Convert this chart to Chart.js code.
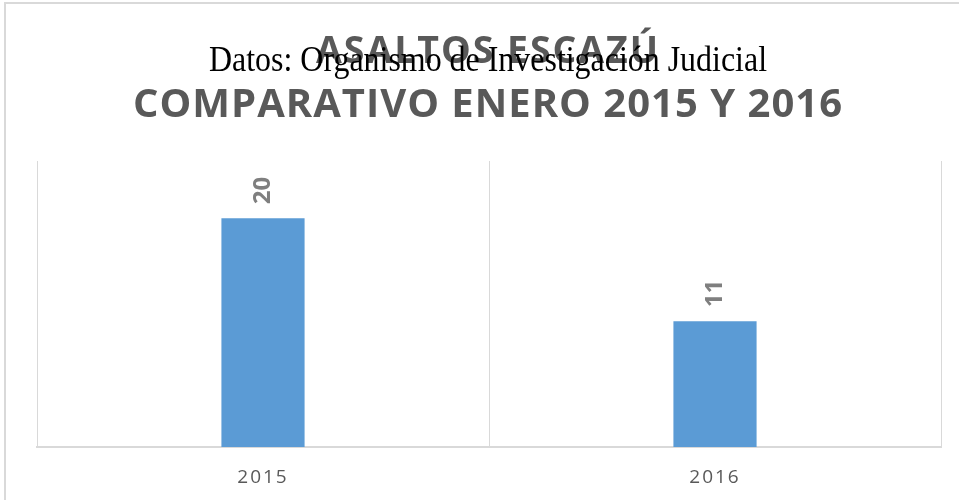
<!DOCTYPE html>
<html>
<head>
<meta charset="utf-8">
<script src="https://cdn.jsdelivr.net/npm/chart.js@4"></script>
<style>
  html, body { margin: 0; padding: 0; background: #fff; }
  #wrap { position: relative; width: 959px; height: 500px; }
  #wrap::before { content: ''; position: absolute; left: 4px; top: 2px; right: 0; bottom: 0;
    border-left: 2px solid #d9d9d9; border-top: 2px solid #d9d9d9; pointer-events: none; }
</style>
</head>
<body>
<div id="wrap"><canvas id="asaltos" width="959" height="500"></canvas></div>
<script>
const anios = ['2015', '2016'];
const totalAsaltos = [20, 11];
const tituloLineas = ['ASALTOS ESCAZÚ', 'COMPARATIVO ENERO 2015 Y 2016'];
const fuente = 'Datos: Organismo de Investigación Judicial';

// titles drawn by hand because the source line overlaps the first title line
const titulos = {
    id: 'titulos',
    beforeDraw(chart) {
        // spaced-out tick labels on the x axis
        chart.ctx.letterSpacing = '2px';
    },
    beforeDatasetsDraw(chart) {
        chart.ctx.letterSpacing = '0px';
    },
    afterDraw(chart) {
        const c = chart.ctx;
        const mid = 488;
        c.save();
        c.textAlign = 'center';
        c.textBaseline = 'alphabetic';
        c.fillStyle = '#595959';
        c.font = 'bold 38px "Open Sans"';
        c.letterSpacing = '2px';
        c.fillText(tituloLineas[0], mid, 63, 344);
        c.font = 'bold 40px "Open Sans"';
        c.letterSpacing = '1px';
        c.fillText(tituloLineas[1], mid, 117, 710);
        c.letterSpacing = '0px';
        c.fillStyle = '#000';
        c.font = '36px "Liberation Serif"';
        c.fillText(fuente, mid, 71, 558);
        c.restore();
    }
};

// rotated value labels above the bars
const etiquetas = {
    id: 'etiquetas',
    afterDatasetsDraw(chart) {
        const c = chart.ctx;
        const meta = chart.getDatasetMeta(0);
        c.save();
        c.fillStyle = '#7f7f7f';
        c.font = 'bold 24px "Open Sans"';
        c.textAlign = 'left';
        c.textBaseline = 'middle';
        meta.data.forEach((bar, i) => {
            c.save();
            c.translate(bar.x, bar.y - 14);
            c.rotate(-Math.PI / 2);
            c.fillText(String(totalAsaltos[i]), 0, 0);
            c.restore();
        });
        c.restore();
    }
};

const ctx = document.getElementById('asaltos').getContext('2d');
const grafico = new Chart(ctx, {
    type: 'bar',
    data: {
        labels: anios,
        datasets: [{
            label: 'Asaltos',
            data: totalAsaltos,
            backgroundColor: '#5b9bd5',
            categoryPercentage: 1,
            barPercentage: 0.184
        }]
    },
    options: {
        responsive: false,
        animation: false,
        layout: { padding: { top: 161, left: 37, right: 18, bottom: 0 } },
        plugins: {
            legend: { display: false },
            title: { display: false },
            tooltip: { enabled: false }
        },
        scales: {
            x: {
                grid: { color: '#d9d9d9', lineWidth: 1, drawTicks: false },
                border: { color: '#d9d9d9', width: 2 },
                ticks: {
                    color: '#595959',
                    padding: 19,
                    font: { family: 'Open Sans', size: 19 }
                },
                afterFit(scale) {
                    scale.height = 53;
                }
            },
            y: {
                display: false,
                min: 0,
                max: 25
            }
        }
    },
    plugins: [titulos, etiquetas]
});
</script>
</body>
</html>
